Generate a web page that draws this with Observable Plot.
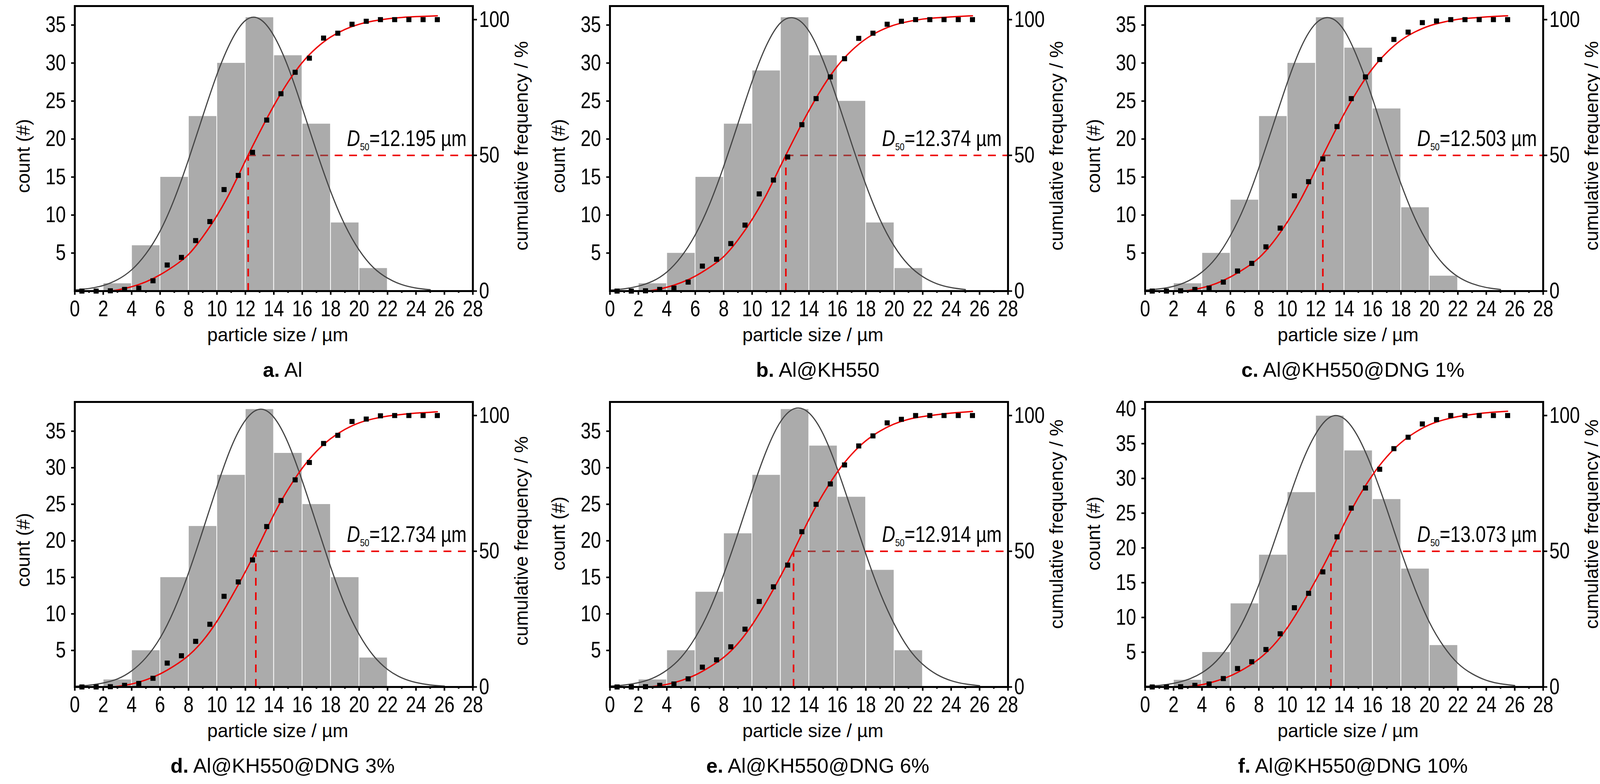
<!DOCTYPE html>
<html>
<head>
<meta charset="utf-8">
<script src="https://cdn.jsdelivr.net/npm/d3@7"></script>
<script src="https://cdn.jsdelivr.net/npm/@observablehq/plot@0.6"></script>
<style>
  body { margin: 0; background: white; }
  #chart { display: grid; grid-template-columns: repeat(3, 1370px); }
  .panel { height: 1014px; }
  .panel svg { display: block; }
  .title {
    margin-top: 30px; margin-left: 191px; width: 1019px; padding-left: 46px;
    box-sizing: border-box; text-align: center;
    font: 52px/54px "Liberation Sans", Arial, sans-serif; color: black;
  }
</style>
</head>
<body>
<div id="chart"></div>
<script>
// particle size histograms, 2 µm bins starting at 2 µm
const binStarts = [2, 4, 6, 8, 10, 12, 14, 16, 18, 20];
const countsA = [1, 6, 15, 23, 30, 36, 31, 22, 9, 3];
const countsB = [1, 5, 15, 22, 29, 36, 31, 25, 9, 3];
const countsC = [1, 5, 12, 23, 30, 36, 32, 24, 11, 2];
const countsD = [1, 5, 15, 22, 29, 38, 32, 25, 15, 4];
const countsE = [1, 5, 13, 21, 29, 38, 33, 26, 16, 5];
const countsF = [1, 5, 12, 19, 28, 39, 34, 27, 17, 6];

// cumulative frequency points (%)
const cumX = [0.5, 1.5, 2.5, 3.5, 4.5, 5.5, 6.5, 7.5, 8.5, 9.5, 10.5, 11.5, 12.5,
  13.5, 14.5, 15.5, 16.5, 17.5, 18.5, 19.5, 20.5, 21.5, 22.5, 23.5, 24.5, 25.5];
const cumA = [0, 0, 0.1, 0.6, 1.1, 3.8, 9.6, 12.4, 18.6, 25.6, 37.4, 42.6, 51.1, 63.0, 72.7, 80.6, 85.8, 93.2, 95.0, 98.3, 99.4, 100, 100, 100, 100, 100];
const cumB = [0, 0, 0.1, 0.6, 1.1, 3.3, 9.2, 11.7, 17.5, 24.3, 35.8, 40.9, 49.4, 61.3, 70.9, 78.9, 85.6, 93.1, 95.0, 98.3, 99.4, 100, 100, 100, 100, 100];
const cumC = [0, 0, 0.1, 0.6, 1.1, 3.3, 7.4, 10.2, 16.3, 23.2, 35.1, 40.3, 48.7, 60.6, 70.9, 78.9, 85.3, 92.7, 95.4, 98.9, 99.5, 100, 100, 100, 100, 100];
const cumD = [0, 0, 0.1, 0.6, 1.3, 3.2, 8.8, 11.5, 16.8, 23.1, 33.4, 38.7, 46.8, 59.1, 68.7, 76.3, 82.7, 89.7, 92.7, 97.8, 98.7, 99.9, 100, 100, 100, 100];
const cumE = [0, 0, 0.1, 0.6, 1.1, 3.0, 7.3, 10.0, 14.8, 21.3, 31.5, 36.9, 44.9, 57.2, 67.3, 74.8, 81.8, 88.8, 92.5, 97.3, 98.6, 100, 100, 100, 100, 100];
const cumF = [0, 0, 0.1, 0.6, 1.1, 3.1, 6.8, 9.3, 13.8, 19.6, 29.2, 34.5, 42.4, 55.3, 65.9, 73.3, 80.2, 87.8, 92.0, 96.9, 98.5, 100, 100, 100, 100, 100];

// red cumulative fit curve (%)
const fitX = [2.5, 3, 4, 5, 6, 7, 8, 9, 10, 11, 12, 13, 14, 15, 16, 17, 18, 19, 20, 21, 22, 23, 24, 25, 25.5];
const fitA = [0, 0.4, 1.6, 3.4, 6.0, 9.3, 13.5, 20.0, 27.8, 37.2, 48.0, 58.5, 68.3, 77.0, 84.2, 89.6, 93.6, 96.4, 98.3, 99.5, 100.3, 100.8, 101.1, 101.3, 101.4];
const fitB = [0, 0.25, 1.4, 3.1, 5.5, 8.7, 12.7, 18.8, 26.4, 35.5, 46.1, 56.6, 66.5, 75.4, 82.9, 88.6, 92.9, 95.9, 98.0, 99.3, 100.2, 100.7, 101.0, 101.3, 101.4];
const fitC = [0, 0.2, 1.2, 2.8, 5.2, 8.3, 12.2, 18.0, 25.4, 34.3, 44.7, 55.2, 65.3, 74.3, 82.0, 87.9, 92.4, 95.5, 97.7, 99.1, 100.1, 100.6, 101.0, 101.3, 101.4];
const fitD = [0, 0.2, 1.1, 2.6, 4.8, 7.8, 11.6, 17.0, 24.2, 33.0, 42.5, 52.8, 63.5, 72.8, 80.6, 86.8, 91.5, 94.9, 97.3, 98.8, 99.8, 100.4, 100.9, 101.2, 101.4];
const fitE = [0, 0.15, 0.95, 2.35, 4.4, 7.3, 10.9, 16.0, 22.9, 31.4, 40.8, 51.0, 61.7, 71.1, 79.2, 85.7, 90.7, 94.3, 96.9, 98.6, 99.6, 100.3, 100.9, 101.3, 101.5];
const fitF = [0, 0.1, 0.85, 2.2, 4.1, 6.8, 10.3, 15.2, 21.8, 30.1, 39.3, 49.3, 60.1, 69.8, 78.1, 84.8, 90.0, 93.8, 96.6, 98.4, 99.6, 100.4, 101.0, 101.4, 101.6];

// grey normal-distribution curve (count)
const gaussX = [0, 1, 2, 3, 4, 5, 6, 7, 8, 9, 10, 11, 12, 13, 14, 15, 16, 17, 18, 19, 20, 21, 22, 23, 24, 25, 26];
const gaussA = [0.15, 0.34, 0.73, 1.5, 2.8, 4.9, 7.9, 12.1, 17.3, 23.0, 28.5, 32.9, 35.6, 35.8, 33.6, 29.5, 24.1, 18.4, 13.1, 8.7, 5.4, 3.1, 1.7, 0.85, 0.4, 0.18];
const gaussB = [0.13, 0.3, 0.65, 1.3, 2.5, 4.5, 7.4, 11.4, 16.4, 22.0, 27.6, 32.3, 35.3, 35.9, 34.2, 30.3, 25.1, 19.4, 14.0, 9.4, 5.9, 3.45, 1.9, 0.96, 0.46, 0.2];
const gaussC = [0.12, 0.29, 0.63, 1.3, 2.5, 4.4, 7.3, 11.2, 16.2, 21.8, 27.4, 32.2, 35.2, 35.95, 34.3, 30.4, 25.3, 19.5, 14.1, 9.5, 6.0, 3.5, 1.9, 0.98, 0.47, 0.21];
const gaussD = [0.1, 0.24, 0.55, 1.1, 2.2, 4.0, 6.7, 10.6, 15.6, 21.4, 27.4, 32.8, 36.5, 38.0, 36.9, 33.4, 28.2, 22.3, 16.4, 11.2, 7.2, 4.3, 2.4, 1.25, 0.61, 0.28, 0.12];
const gaussE = [0.12, 0.27, 0.59, 1.2, 2.3, 4.05, 6.75, 10.5, 15.4, 21.0, 26.9, 32.3, 36.3, 38.1, 37.5, 34.6, 29.8, 24.1, 18.2, 12.9, 8.6, 5.3, 3.1, 1.7, 0.86, 0.41, 0.18];
const gaussF = [0.1, 0.23, 0.52, 1.07, 2.05, 3.7, 6.3, 9.9, 14.7, 20.4, 26.4, 32.1, 36.4, 38.8, 38.6, 35.9, 31.3, 25.6, 19.5, 14.0, 9.3, 5.85, 3.4, 1.9, 0.96, 0.46, 0.21];

const d50 = [12.195, 12.374, 12.503, 12.734, 12.914, 13.073];
const countMax = [37.5, 37.5, 37.5, 39, 39, 41];
const cumMax = 105;
const xMax = 28;

const sizeTicks = [0, 2, 4, 6, 8, 10, 12, 14, 16, 18, 20, 22, 24, 26, 28];
const sizeMinorTicks = [1, 3, 5, 7, 9, 11, 13, 15, 17, 19, 21, 23, 25, 27];
const countTicks = [5, 10, 15, 20, 25, 30, 35];
const countTicksF = [5, 10, 15, 20, 25, 30, 35, 40];
const cumTicks = [0, 50, 100];

const letters = ["a.", "b.", "c.", "d.", "e.", "f."];
const names = ["Al", "Al@KH550", "Al@KH550@DNG 1%", "Al@KH550@DNG 3%", "Al@KH550@DNG 6%", "Al@KH550@DNG 10%"];
const xLabel = "particle size / µm";
const yLabel = "count (#)";
const y2Label = "cumulative frequency / %";

// small per-panel nudges of the side labels
const countLabelDy = [19, 19, 19, 14, -28, -28];
const cumLabelDy = [-7, -7, -7, -9, -52, -52];

const FONT = '"Liberation Sans", Arial, sans-serif';
const RED = "#ee0000";

const allCounts = [countsA, countsB, countsC, countsD, countsE, countsF];
const allCum = [cumA, cumB, cumC, cumD, cumE, cumF];
const allFit = [fitA, fitB, fitC, fitD, fitE, fitF];
const allGauss = [gaussA, gaussB, gaussC, gaussD, gaussE, gaussF];
const allCountTicks = [countTicks, countTicks, countTicks, countTicks, countTicks, countTicksF];

const chart = d3.select("#chart");

allCounts.forEach((counts, i) => {
  const k = countMax[i] / cumMax;   // % on the right axis -> count units
  const bars = binStarts.map((x0, j) => ({x1: x0, x2: x0 + 2, y: counts[j]}));
  const cum = cumX.map((x, j) => ({x, y: allCum[i][j] * k}));
  const fit = fitX.map((x, j) => ({x, y: allFit[i][j] * k}));
  const gauss = allGauss[i].map((y, j) => ({x: gaussX[j], y}));
  const label = `D50=${d50[i].toFixed(3)} µm`;

  const svg = Plot.plot({
    width: 1370,
    height: 890,
    marginLeft: 191,
    marginRight: 160,
    marginTop: 15,
    marginBottom: 145,
    x: {domain: [0, xMax]},
    y: {domain: [0, countMax[i]]},
    style: {fontFamily: FONT, fontSize: "57px", color: "black", background: "white", overflow: "visible"},
    marks: [
      Plot.ruleY([50 * k], {x1: d50[i], x2: xMax, stroke: RED, strokeWidth: 4, strokeDasharray: "20 17"}),
      Plot.rectY(bars, {x1: "x1", x2: "x2", y: "y", fill: "#666", fillOpacity: 0.55, insetLeft: 1, insetRight: 1}),
      Plot.ruleX([d50[i]], {y1: 0, y2: 50 * k, stroke: RED, strokeWidth: 4, strokeDasharray: "20 17"}),
      Plot.line(gauss, {x: "x", y: "y", curve: "natural", stroke: "#454545", strokeWidth: 3}),
      Plot.line(fit, {x: "x", y: "y", curve: "natural", stroke: RED, strokeWidth: 3.5}),
      Plot.dot(cum, {x: "x", y: "y", symbol: "square", fill: "black", r: 7.3}),
      Plot.text([label], {x: xMax, y: 50 * k, text: d => d, dx: -16, dy: -24, textAnchor: "end", lineAnchor: "bottom", fontSize: 57}),
      Plot.frame({stroke: "black", strokeWidth: 5}),
      Plot.axisX({ticks: sizeTicks, tickSize: 10, tickPadding: 14, strokeWidth: 4, label: null}),
      Plot.axisX({ticks: sizeMinorTicks, tickSize: 5, strokeWidth: 4, tickFormat: () => "", label: null}),
      Plot.axisY({anchor: "left", ticks: allCountTicks[i], tickSize: 9, tickPadding: 14, strokeWidth: 4, label: null}),
      Plot.axisY({anchor: "right", ticks: cumTicks.map(t => t * k), tickFormat: d => String(Math.round(d / k)),
        tickSize: 10, tickPadding: 6, strokeWidth: 4, label: null}),
      Plot.text([xLabel], {frameAnchor: "bottom", text: d => d, dx: 10, dy: 128, lineAnchor: "bottom", fontSize: 48}),
      Plot.text([yLabel], {frameAnchor: "left", text: d => d, rotate: -90, textAnchor: "middle", lineAnchor: "middle",
        dx: -131, dy: countLabelDy[i], fontSize: 48}),
      Plot.text([y2Label], {frameAnchor: "right", text: d => d, rotate: -90, textAnchor: "middle", lineAnchor: "middle",
        dx: 125, dy: cumLabelDy[i], fontSize: 48})
    ]
  });

  const panel = chart.append("div").attr("class", "panel");
  panel.append(() => svg);
  const title = panel.append("div").attr("class", "title");
  title.append("b").text(letters[i]);
  title.append("span").text(" " + names[i]);

  // minor x ticks carry no labels: drop their empty text nodes
  d3.select(svg).selectAll("text").filter(function() { return this.textContent === ""; }).remove();

  // italic D and subscript 50 in the D50 label
  d3.select(svg).selectAll("text")
    .filter(function() { return this.textContent.startsWith("D50="); })
    .classed("d50", true)
    .each(function() {
      const t = d3.select(this);
      const s = t.text();
      t.text(null);
      t.append("tspan").attr("font-style", "italic").text(s.slice(0, 1));
      t.append("tspan").attr("font-size", "26px").attr("dy", 11).text(s.slice(1, 3));
      t.append("tspan").attr("dy", -11).text(s.slice(3));
    });

  // the original uses a narrow face for numbers: squeeze the glyphs horizontally
  d3.select(svg).selectAll('g[aria-label$="tick label"] text, text.d50').each(function() {
    const w = this.getComputedTextLength();
    if (w > 0) {
      this.setAttribute("textLength", (w * 0.82).toFixed(1));
      this.setAttribute("lengthAdjust", "spacingAndGlyphs");
    }
  });
});
</script>
</body>
</html>
